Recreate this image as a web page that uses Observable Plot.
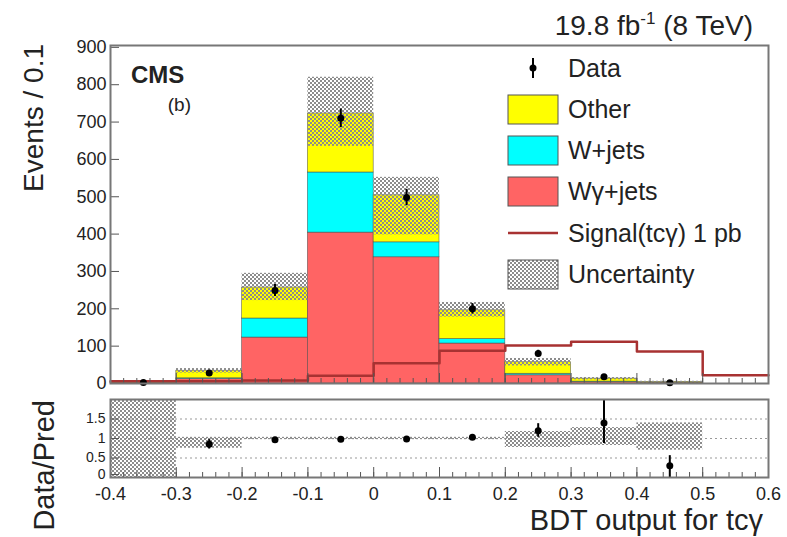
<!DOCTYPE html>
<html><head><meta charset="utf-8">
<script src="https://cdn.jsdelivr.net/npm/d3@7"></script>
<script src="https://cdn.jsdelivr.net/npm/@observablehq/plot@0.6"></script>
<style>
body{margin:0;background:#fff;}
#wrap{position:relative;width:787px;height:537px;overflow:hidden;font-family:"Liberation Sans",Arial,sans-serif;background:#fff;}
#wrap svg{position:absolute;left:0;}
</style></head><body>
<svg width="0" height="0" style="position:absolute">
<defs>
<pattern id="hatch" width="4" height="4" patternUnits="userSpaceOnUse">
<rect x="0" y="0" width="2" height="2" fill="#8c8c8c"/><rect x="2" y="2" width="2" height="2" fill="#8c8c8c"/>
</pattern>
</defs></svg>
<div id="wrap"></div>
<script>
// ---- data ----
const binEdges = [-0.4,-0.3,-0.2,-0.1,0.0,0.1,0.2,0.3,0.4,0.5,0.6];
const processes = ["Wγ+jets","W+jets","Other"];
const processColors = ["#ff6464","#00ffff","#ffff00"];
const wgammaJets = [2,12,123,404,338,107,22,4,2,0];
const wJets      = [0,2,51,161,40,12,4,1,0,0];
const otherBkg   = [1,20,83,158,126,77,31,8,2,0];
const signalTcg  = [6,6,8,21,54,88,102,112,86,22];
const dataVals   = [3,28,249,710,498,200,80,18,2,null];
const dataErr    = [2,5,16,25,22,14,9,4,1.5,null];
const uncLo      = [null,28,222,635,398,178,47,10,2,null];
const uncHi      = [null,40,295,820,552,217,67,16,6,null];
const ratioVals  = [null,0.85,0.97,0.98,0.99,1.03,1.2,1.4,0.3,null];
const ratioErrLo = [null,0.73,0.92,0.94,0.94,0.96,1.03,0.87,0.0,null];
const ratioErrHi = [null,0.97,1.02,1.02,1.04,1.10,1.38,2.0,0.56,null];
const ratioBandLo= [0,0.75,0.97,0.97,0.97,0.97,0.77,0.82,0.7,null];
const ratioBandHi= [2,1.03,1.03,1.03,1.03,1.03,1.18,1.28,1.4,null];
const yTicks = [0,100,200,300,400,500,600,700,800,900];
const xTicks = [-0.4,-0.3,-0.2,-0.1,0,0.1,0.2,0.3,0.4,0.5,0.6];
const xTickLabels = ["-0.4","-0.3","-0.2","-0.1","0","0.1","0.2","0.3","0.4","0.5","0.6"];
const ratioTicksUpper = [0.5,1,1.5];
const ratioTicksUpperLabels = ["0.5","1","1.5"];
const ratioTickZero = [0];
const ratioGrid = [0.5,1,1.5];
const minorXTicks = d3.range(-40,61,2).map(v=>v/100);

// ---- build tables ----
const nb = binEdges.length-1;
const bins = d3.range(nb).map(i=>({i, lo:binEdges[i], hi:binEdges[i+1], xc:(binEdges[i]+binEdges[i+1])/2}));
const series = [wgammaJets, wJets, otherBkg];
const stackRows = [];
bins.forEach(b=>{
  let acc = 0;
  series.forEach((s,k)=>{
    const v = s[b.i];
    if (v>0) stackRows.push({lo:b.lo, hi:b.hi, proc:processes[k], y1:acc, y2:acc+v});
    acc += v;
  });
});
const uncRows = bins.filter(b=>uncLo[b.i]!=null).map(b=>({lo:b.lo,hi:b.hi,y1:uncLo[b.i],y2:uncHi[b.i]}));
const signalPts = bins.map(b=>({x:b.lo, y:signalTcg[b.i]})).concat([{x:binEdges[nb], y:signalTcg[nb-1]}]);
const dataRows = bins.filter(b=>dataVals[b.i]!=null).map(b=>({xc:b.xc, v:dataVals[b.i], lo:dataVals[b.i]-dataErr[b.i], hi:dataVals[b.i]+dataErr[b.i]}));
const ratioRows = bins.filter(b=>ratioVals[b.i]!=null).map(b=>({xc:b.xc, v:ratioVals[b.i], lo:ratioErrLo[b.i], hi:ratioErrHi[b.i]}));
const bandRows = bins.filter(b=>ratioBandLo[b.i]!=null).map(b=>({lo:b.lo,hi:b.hi,y1:ratioBandLo[b.i],y2:ratioBandHi[b.i]}));

const font = '"Liberation Sans", Arial, sans-serif';
const axisColor = "#555";
const wrap = document.getElementById("wrap");

const main = Plot.plot({
  width:787, height:392,
  marginLeft:110, marginRight:19, marginTop:45, marginBottom:9,
  style:{fontFamily:font, fontSize:"18px", color:"#222", background:"transparent"},
  x:{domain:[-0.4,0.6]},
  y:{domain:[0,905]},
  color:{domain:processes, range:processColors},
  marks:[
    Plot.rect(stackRows,{x1:"lo",x2:"hi",y1:"y1",y2:"y2",fill:"proc",stroke:"#444",strokeWidth:0.7,strokeOpacity:0.7}),
    Plot.rect(uncRows,{x1:"lo",x2:"hi",y1:"y1",y2:"y2",fill:"url(#hatch)"}),
    Plot.line(signalPts,{x:"x",y:"y",curve:"step-after",stroke:"#a83232",strokeWidth:2.5}),
    Plot.ruleX(dataRows,{x:"xc",y1:"lo",y2:"hi",stroke:"#000",strokeWidth:2}),
    Plot.dot(dataRows,{x:"xc",y:"v",r:3.5,fill:"#000"}),
    Plot.axisY({ticks:yTicks, tickSize:-9, tickPadding:13, label:null, stroke:axisColor, fill:"#222"}),
    Plot.axisX({ticks:xTicks, tickSize:-10, tickFormat:()=>"", label:null, stroke:axisColor}),
    Plot.axisX({ticks:minorXTicks, tickSize:-5, tickFormat:()=>"", label:null, stroke:axisColor}),
    Plot.frame({stroke:"#777", strokeWidth:2})
  ]
});
main.style.top = "0px";
wrap.appendChild(main);

const ratio = Plot.plot({
  width:787, height:147,
  marginLeft:110, marginRight:19, marginTop:9, marginBottom:60,
  style:{fontFamily:font, fontSize:"18px", color:"#222", background:"transparent"},
  x:{domain:[-0.4,0.6]},
  y:{domain:[0,2]},
  marks:[
    Plot.gridY(ratioGrid,{stroke:"#999", strokeOpacity:1, strokeDasharray:"2,3"}),
    Plot.rect(bandRows,{x1:"lo",x2:"hi",y1:"y1",y2:"y2",fill:"url(#hatch)"}),
    Plot.ruleX(ratioRows,{x:"xc",y1:"lo",y2:"hi",stroke:"#000",strokeWidth:2}),
    Plot.dot(ratioRows,{x:"xc",y:"v",r:3.5,fill:"#000"}),
    Plot.axisY({ticks:ratioTicksUpper, tickSize:-9, tickPadding:14, label:null, stroke:axisColor, fill:"#222",
      fontSize:14, tickFormat:d=>ratioTicksUpperLabels[ratioTicksUpper.indexOf(d)]}),
    Plot.axisY({ticks:ratioTickZero, tickSize:-9, tickPadding:14, label:null, stroke:axisColor, fill:"#222",
      fontSize:14, dy:-3, tickFormat:()=>"0"}),
    Plot.axisX({ticks:xTicks, tickSize:-10, tickPadding:20, label:null, stroke:axisColor, fill:"#222",
      tickFormat:d=>xTickLabels[xTicks.indexOf(d)]}),
    Plot.axisX({ticks:minorXTicks, tickSize:-5, tickFormat:()=>"", label:null, stroke:axisColor}),
    Plot.frame({stroke:"#777", strokeWidth:2})
  ]
});
ratio.style.top = "390px";
wrap.appendChild(ratio);

// ---- overlay: titles, labels, legend ----
const ov = d3.select(wrap).append("svg").attr("width",787).attr("height",537)
  .style("top","0px").style("pointer-events","none")
  .attr("font-family", font).attr("fill","#222");

const lumi = ov.append("text").attr("x",753).attr("y",35).attr("text-anchor","end").attr("font-size",28);
lumi.append("tspan").text("19.8 fb");
lumi.append("tspan").attr("dy",-11).attr("font-size",17).text("-1");
lumi.append("tspan").attr("dy",11).text(" (8 TeV)");

ov.append("text").attr("x",131).attr("y",83).attr("font-size",24).attr("font-weight","bold").text("CMS");
ov.append("text").attr("x",191).attr("y",111).attr("text-anchor","end").attr("font-size",19).text("(b)");

ov.append("text").attr("transform","translate(43,44) rotate(-90)").attr("text-anchor","end")
  .attr("font-size",28).text("Events / 0.1");
ov.append("text").attr("transform","translate(54,400) rotate(-90)").attr("text-anchor","end")
  .attr("font-size",29).text("Data/Pred");
ov.append("text").attr("x",763).attr("y",530).attr("text-anchor","end").attr("font-size",29).text("BDT output for tcγ");

// legend
const lg = ov.append("g");
const lx = 508, lw = 50, tx = 568, fs = 25;
lg.append("line").attr("x1",lx+lw/2).attr("x2",lx+lw/2).attr("y1",58).attr("y2",78).attr("stroke","#000").attr("stroke-width",2);
lg.append("circle").attr("cx",lx+lw/2).attr("cy",68).attr("r",3.5).attr("fill","#000");
lg.append("text").attr("x",tx).attr("y",77).attr("font-size",fs).text("Data");
const boxes = [
  {label:"Other", fill:processColors[2], y:95},
  {label:"W+jets", fill:processColors[1], y:136},
  {label:"Wγ+jets", fill:processColors[0], y:177},
  {label:"Uncertainty", fill:"url(#hatch)", y:260}
];
boxes.forEach(b=>{
  lg.append("rect").attr("x",lx).attr("y",b.y).attr("width",lw).attr("height",29)
    .attr("fill",b.fill).attr("stroke","#555").attr("stroke-width",1);
  lg.append("text").attr("x",tx).attr("y",b.y+23).attr("font-size",fs).text(b.label);
});
lg.append("line").attr("x1",lx).attr("x2",lx+lw).attr("y1",233).attr("y2",233).attr("stroke","#a83232").attr("stroke-width",2.5);
lg.append("text").attr("x",tx).attr("y",242).attr("font-size",fs).text("Signal(tcγ) 1 pb");
</script>
</body></html>
